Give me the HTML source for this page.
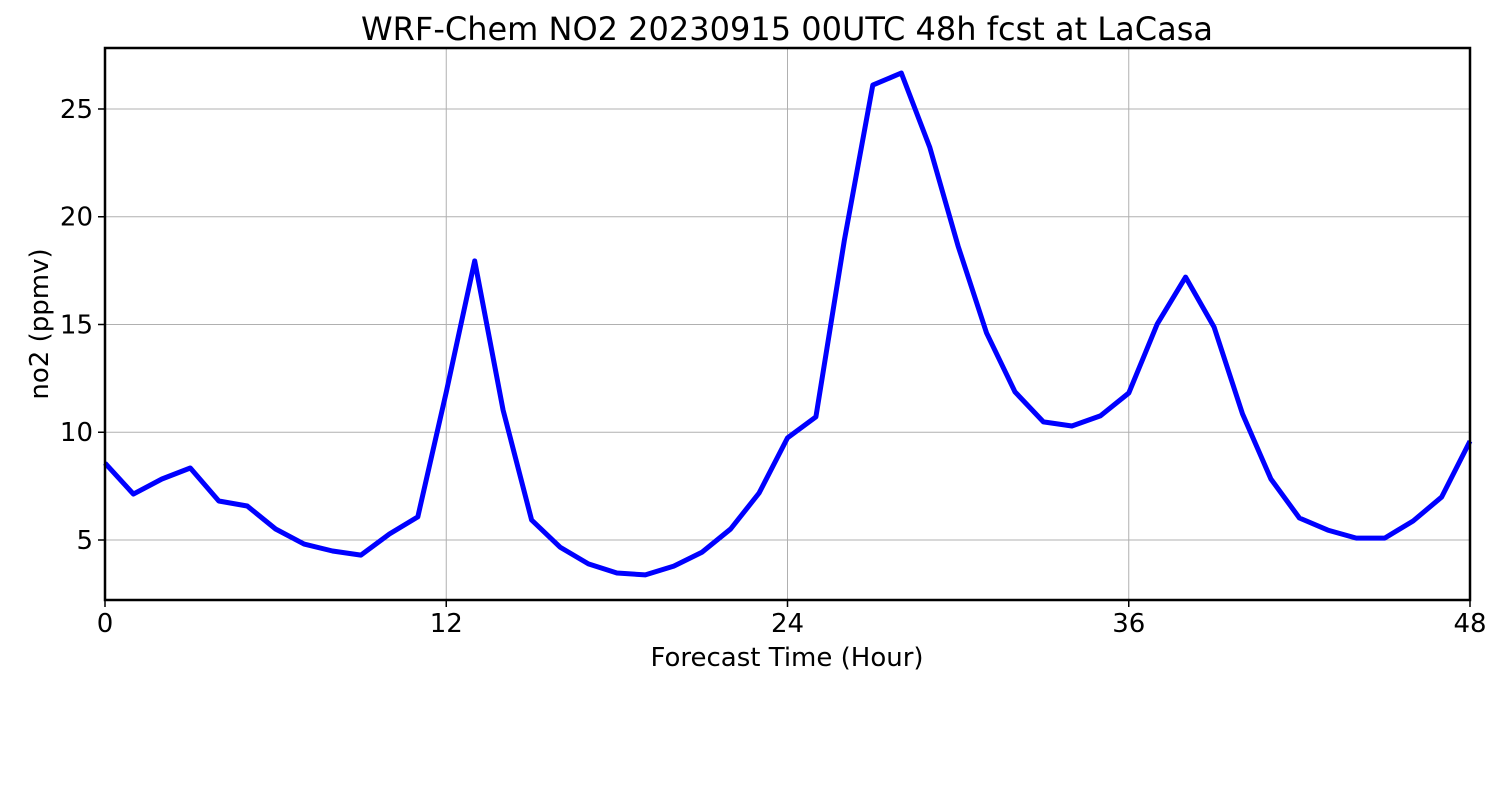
<!DOCTYPE html>
<html><head><meta charset="utf-8"><style>
html,body{margin:0;padding:0;background:#fff;}
svg{display:block;font-family:"DejaVu Sans","Liberation Sans",sans-serif;}
</style></head><body>
<svg id="chart" width="1500" height="800" viewBox="0 0 1500 800">
<rect width="1500" height="800" fill="#fff"/>
<text x="787" y="40" text-anchor="middle" font-size="32">WRF-Chem NO2  20230915 00UTC 48h fcst at LaCasa</text>
<g id="grid"></g>
<g id="ticks"></g>
<path id="line" fill="none" stroke="#0000ff" stroke-width="5" stroke-linejoin="round"/>
<rect x="105" y="48" width="1365" height="552" fill="none" stroke="#000" stroke-width="2.5"/>
<text x="787" y="666" text-anchor="middle" font-size="26">Forecast Time (Hour)</text>
<text transform="translate(48,324) rotate(-90)" text-anchor="middle" font-size="26">no2  (ppmv)</text>
</svg>
<script>
const hours = [0,1,2,3,4,5,6,7,8,9,10,11,12,13,14,15,16,17,18,19,20,21,22,23,24,25,26,27,28,29,30,31,32,33,34,35,36,37,38,39,40,41,42,43,44,45,46,47,48];
const no2 = [8.57,7.13,7.83,8.34,6.81,6.58,5.51,4.81,4.49,4.30,5.28,6.07,11.87,17.95,11.03,5.93,4.67,3.89,3.47,3.38,3.79,4.44,5.51,7.18,9.74,10.71,18.92,26.11,26.67,23.23,18.64,14.60,11.87,10.48,10.29,10.76,11.82,15.02,17.20,14.88,10.85,7.83,6.02,5.46,5.09,5.09,5.88,6.99,9.59];
const xTicks = [0,12,24,36,48];
const yTicks = [5,10,15,20,25];
const xMin=0,xMax=48,yMin=2.216,yMax=27.83;
const L=105,R=1470,T=48,B=600;
const sx=v=>L+(v-xMin)/(xMax-xMin)*(R-L);
const sy=v=>B-(v-yMin)/(yMax-yMin)*(B-T);
const NS="http://www.w3.org/2000/svg";
const grid=document.getElementById('grid'),ticks=document.getElementById('ticks');
function mk(tag,attrs,parent){const e=document.createElementNS(NS,tag);for(const k in attrs)e.setAttribute(k,attrs[k]);parent.appendChild(e);return e;}
xTicks.forEach(t=>{
  const x=sx(t);
  const g=mk('line',{x1:x,x2:x,y1:T,y2:B,stroke:'#b0b0b0','stroke-width':1},grid);
  
  
  const tk=mk('line',{x1:x,x2:x,y1:B,y2:B+7,stroke:'#000','stroke-width':1.5},ticks);
  
  
  const lb=mk('text',{x:x,y:632,'text-anchor':'middle','font-size':26},ticks);
  lb.textContent=t;
  
  
});
yTicks.forEach(t=>{
  const y=sy(t);
  const g=mk('line',{x1:L,x2:R,y1:y,y2:y,stroke:'#b0b0b0','stroke-width':1},grid);
  
  
  const tk=mk('line',{x1:L-7,x2:L,y1:y,y2:y,stroke:'#000','stroke-width':1.5},ticks);
  
  
  const lb=mk('text',{x:L-12,y:y+9,'text-anchor':'end','font-size':26},ticks);
  lb.textContent=t;
  
  
});
document.getElementById('line').setAttribute('d',hours.map((h,i)=>(i?'L':'M')+sx(h).toFixed(1)+','+sy(no2[i]).toFixed(1)).join(''));
</script>
</body></html>
